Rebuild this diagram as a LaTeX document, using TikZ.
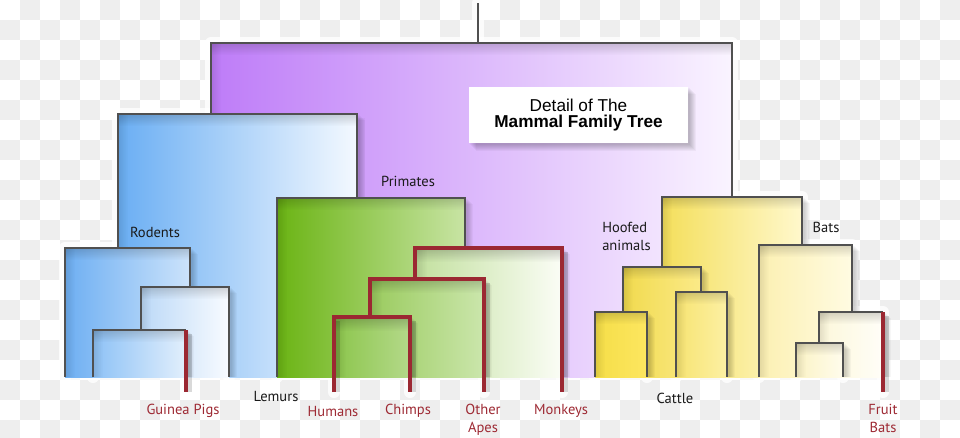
\documentclass[tikz,border=0pt]{standalone}
\usepackage{fontspec}
\setmainfont{PT Sans}
\newfontfamily\helv{Liberation Sans}
\usetikzlibrary{fadings}
\definecolor{edgegray}{HTML}{505050}
\definecolor{redline}{HTML}{9B2832}
\definecolor{chk}{HTML}{EEEEEE}
\definecolor{labred}{HTML}{9E2A34}
\definecolor{labblk}{HTML}{1A1A1A}
\tikzset{
  edge/.style={draw=edgegray,line width=1.1pt},
  redl/.style={draw=redline,line width=2.3pt},
  halo/.style={draw=white,line width=9pt,line cap=round,line join=round,opacity=0.8},
  lab/.style={font=\fontsize{10.9pt}{13.5pt}\selectfont,text=labblk,inner sep=0pt,align=center},
  rlab/.style={lab,text=labred},
}
\begin{document}
\begin{tikzpicture}[x=0.75pt,y=-0.75pt]
\useasboundingbox (0,0) rectangle (960,437);
\fill[white] (0,0) rectangle (960,437);
\foreach \j in {0,...,21}{%
  \pgfmathtruncatemacro\off{mod(\j+1,2)}%
  \foreach \i in {0,2,...,46}{\fill[chk] ({(\i+\off)*20},\j*20) rectangle ++(20,20);}}
% halos
\draw[halo] (478,3) -- (478,43);
\draw[halo] (211,114) |- (732,43) -- (732,197);
\draw[halo] (118,248) |- (357,114) -- (357,198);
\draw[halo] (65,377) |- (190,248) -- (190,287);
\draw[halo] (141,330) |- (229,287) -- (229,377);
\draw[halo] (93,377) |- (186,330) -- (186,392);
\draw[halo] (277,377) |- (465,198) -- (465,248);
\draw[halo] (415,279) |- (562,248) -- (562,392);
\draw[halo] (370,317) |- (484,279) -- (484,392);
\draw[halo] (334,392) |- (410,317) -- (410,392);
\draw[halo] (662,267) |- (802,197) -- (802,245);
\draw[halo] (623,312) |- (701,267) -- (701,292);
\draw[halo] (595,377) |- (647,312) -- (647,377);
\draw[halo] (676,377) |- (727,292) -- (727,377);
\draw[halo] (759,377) |- (852,245) -- (852,312);
\draw[halo] (819,343) |- (883,312) -- (883,392);
\draw[halo] (796,377) |- (843,343) -- (843,377);
\fill[white,opacity=0.7] (65,377) rectangle (883,380);
% root stem
\draw[edge] (478,3) -- (478,43);
% purple
\fill[left color={rgb,255:red,190;green,124;blue,248},right color={rgb,255:red,250;green,244;blue,255}] (211,43) rectangle (732,377);
\fill[black,opacity=0.16,path fading=south] (211,43) rectangle (732,55);
\fill[black,opacity=0.10,path fading=east] (211,43) rectangle (221,377);
\draw[edge] (211,114) |- (732,43) -- (732,197);
% title box
\foreach \k in {1,...,7}{\fill[black,opacity=0.035] (469+\k,87+\k) rectangle (688+\k+1,143+\k+1);}
\node[fill=white,minimum width=219*0.75pt,minimum height=56*0.75pt,inner sep=0pt,align=center] (title) at (578.5,115)
  {\helv\fontsize{12.9pt}{15.5pt}\selectfont Detail of The\\\helv\bfseries\fontsize{12.9pt}{15.5pt}\selectfont Mammal Family Tree};
% blue
\begin{scope}
\definecolor{c1}{HTML}{6AAEF3}\definecolor{c2}{HTML}{F4F9FF}
\fill[black,opacity=0.03] (357,118) rectangle (365,377);
\foreach \k in {1,...,6}{\fill[black,opacity=0.03] (118+\k,114+\k) rectangle (357+\k+2,377);}
\fill[left color=c1,right color=c2] (118,114) rectangle (357,377);
\fill[black,opacity=0.16,path fading=south] (118,114) rectangle (357,126);
\fill[black,opacity=0.10,path fading=east] (118,114) rectangle (128,377);
\end{scope}
\draw[edge] (118,248) |- (357,114) -- (357,198);
\begin{scope}
\definecolor{c1}{HTML}{6EAFF2}\definecolor{c2}{HTML}{CCE3FB}
\foreach \k in {1,...,6}{\fill[black,opacity=0.03] (65+\k,248+\k) rectangle (190+\k+2,377);}
\fill[left color=c1,right color=c2] (65,248) rectangle (190,377);
\fill[black,opacity=0.16,path fading=south] (65,248) rectangle (190,260);
\fill[black,opacity=0.10,path fading=east] (65,248) rectangle (75,377);
\end{scope}
\draw[edge] (65,377) |- (190,248) -- (190,287);
\begin{scope}
\definecolor{c1}{HTML}{BCD9F7}\definecolor{c2}{HTML}{F8FBFF}
\foreach \k in {1,...,6}{\fill[black,opacity=0.03] (141+\k,287+\k) rectangle (229+\k+2,377);}
\fill[left color=c1,right color=c2] (141,287) rectangle (229,377);
\fill[black,opacity=0.16,path fading=south] (141,287) rectangle (229,299);
\fill[black,opacity=0.10,path fading=east] (141,287) rectangle (151,377);
\end{scope}
\draw[edge] (141,330) |- (229,287) -- (229,377);
\begin{scope}
\definecolor{c1}{HTML}{8EC2F6}\definecolor{c2}{HTML}{E2EFFC}
\foreach \k in {1,...,6}{\fill[black,opacity=0.03] (93+\k,330+\k) rectangle (186+\k+2,377);}
\fill[left color=c1,right color=c2] (93,330) rectangle (186,377);
\fill[black,opacity=0.16,path fading=south] (93,330) rectangle (186,342);
\fill[black,opacity=0.10,path fading=east] (93,330) rectangle (103,377);
\end{scope}
\draw[edge] (93,377) |- (186,330);
\draw[black,opacity=0.15,line width=3pt] (190,334) -- (190,392);
\draw[redl] (186,330) -- (186,392);
% green
\begin{scope}
\definecolor{c1}{HTML}{6BB414}\definecolor{c2}{HTML}{C8E4A4}
\foreach \k in {1,...,6}{\fill[black,opacity=0.03] (277+\k,198+\k) rectangle (465+\k+2,377);}
\fill[left color=c1,right color=c2] (277,198) rectangle (465,377);
\fill[black,opacity=0.16,path fading=south] (277,198) rectangle (465,210);
\fill[black,opacity=0.10,path fading=east] (277,198) rectangle (287,377);
\end{scope}
\draw[edge] (277,377) |- (465,198) -- (465,248);
% red clade
\begin{scope}
\definecolor{c1}{HTML}{C2E09E}\definecolor{c2}{HTML}{FBFDF6}
\foreach \k in {1,...,6}{\fill[black,opacity=0.03] (415+\k,248+\k) rectangle (562+\k+2,377);}
\fill[left color=c1,right color=c2] (415,248) rectangle (562,377);
\fill[black,opacity=0.2,path fading=south] (415,248) rectangle (562,262);
\fill[black,opacity=0.12,path fading=east] (415,248) rectangle (427,377);
\end{scope}
\draw[black,opacity=0.15,line width=3pt] (566,252) -- (566,392);
\draw[redl] (415,279) |- (562,248) -- (562,392);
\begin{scope}
\definecolor{c1}{HTML}{9ACB5E}\definecolor{c2}{HTML}{CBE6AC}
\foreach \k in {1,...,6}{\fill[black,opacity=0.03] (370+\k,279+\k) rectangle (484+\k+2,377);}
\fill[left color=c1,right color=c2] (370,279) rectangle (484,377);
\fill[black,opacity=0.2,path fading=south] (370,279) rectangle (484,293);
\fill[black,opacity=0.12,path fading=east] (370,279) rectangle (382,377);
\end{scope}
\draw[black,opacity=0.15,line width=3pt] (488,283) -- (488,392);
\draw[redl] (370,317) |- (484,279) -- (484,392);
\begin{scope}
\definecolor{c1}{HTML}{8CC64C}\definecolor{c2}{HTML}{B4D98A}
\foreach \k in {1,...,6}{\fill[black,opacity=0.03] (334+\k,317+\k) rectangle (410+\k+2,377);}
\fill[left color=c1,right color=c2] (334,317) rectangle (410,377);
\fill[black,opacity=0.2,path fading=south] (334,317) rectangle (410,331);
\fill[black,opacity=0.12,path fading=east] (334,317) rectangle (346,377);
\end{scope}
\draw[black,opacity=0.15,line width=3pt] (414,321) -- (414,392) (338,321) -- (338,392);
\draw[redl] (334,392) |- (410,317) -- (410,392);
% yellow
\begin{scope}
\definecolor{c1}{HTML}{F4DF5C}\definecolor{c2}{HTML}{FFF8CC}
\foreach \k in {1,...,6}{\fill[black,opacity=0.03] (662+\k,197+\k) rectangle (802+\k+2,377);}
\fill[left color=c1,right color=c2] (662,197) rectangle (802,377);
\fill[black,opacity=0.16,path fading=south] (662,197) rectangle (802,209);
\fill[black,opacity=0.10,path fading=east] (662,197) rectangle (672,377);
\end{scope}
\draw[edge] (662,267) |- (802,197) -- (802,245);
\begin{scope}
\definecolor{c1}{HTML}{F1DA4E}\definecolor{c2}{HTML}{FBEA88}
\foreach \k in {1,...,6}{\fill[black,opacity=0.03] (623+\k,267+\k) rectangle (701+\k+2,377);}
\fill[left color=c1,right color=c2] (623,267) rectangle (701,377);
\fill[black,opacity=0.16,path fading=south] (623,267) rectangle (701,279);
\fill[black,opacity=0.10,path fading=east] (623,267) rectangle (633,377);
\end{scope}
\draw[edge] (623,312) |- (701,267) -- (701,292);
\begin{scope}
\definecolor{c1}{HTML}{F5DE48}\definecolor{c2}{HTML}{FDE660}
\foreach \k in {1,...,6}{\fill[black,opacity=0.03] (595+\k,312+\k) rectangle (647+\k+2,377);}
\fill[left color=c1,right color=c2] (595,312) rectangle (647,377);
\fill[black,opacity=0.16,path fading=south] (595,312) rectangle (647,324);
\fill[black,opacity=0.10,path fading=east] (595,312) rectangle (605,377);
\end{scope}
\draw[edge] (595,377) |- (647,312) -- (647,377);
\begin{scope}
\definecolor{c1}{HTML}{F7E472}\definecolor{c2}{HTML}{FCF0A4}
\foreach \k in {1,...,6}{\fill[black,opacity=0.03] (676+\k,292+\k) rectangle (727+\k+2,377);}
\fill[left color=c1,right color=c2] (676,292) rectangle (727,377);
\fill[black,opacity=0.16,path fading=south] (676,292) rectangle (727,304);
\fill[black,opacity=0.10,path fading=east] (676,292) rectangle (686,377);
\end{scope}
\draw[edge] (676,377) |- (727,292) -- (727,377);
\begin{scope}
\definecolor{c1}{HTML}{FCF0B2}\definecolor{c2}{HTML}{FFFBE2}
\foreach \k in {1,...,6}{\fill[black,opacity=0.03] (759+\k,245+\k) rectangle (852+\k+2,377);}
\fill[left color=c1,right color=c2] (759,245) rectangle (852,377);
\fill[black,opacity=0.16,path fading=south] (759,245) rectangle (852,257);
\fill[black,opacity=0.10,path fading=east] (759,245) rectangle (769,377);
\end{scope}
\draw[edge] (759,377) |- (852,245) -- (852,312);
\begin{scope}
\definecolor{c1}{HTML}{FCF7DA}\definecolor{c2}{HTML}{FFFEF8}
\foreach \k in {1,...,6}{\fill[black,opacity=0.03] (819+\k,312+\k) rectangle (883+\k+2,377);}
\fill[left color=c1,right color=c2] (819,312) rectangle (883,377);
\fill[black,opacity=0.16,path fading=south] (819,312) rectangle (883,324);
\fill[black,opacity=0.10,path fading=east] (819,312) rectangle (829,377);
\end{scope}
\draw[edge] (819,343) |- (883,312);
\draw[black,opacity=0.15,line width=3pt] (887,316) -- (887,392);
\draw[redl] (883,312) -- (883,392);
\begin{scope}
\definecolor{c1}{HTML}{FBF3C6}\definecolor{c2}{HTML}{FFFCEC}
\foreach \k in {1,...,6}{\fill[black,opacity=0.03] (796+\k,343+\k) rectangle (843+\k+2,377);}
\fill[left color=c1,right color=c2] (796,343) rectangle (843,377);
\fill[black,opacity=0.16,path fading=south] (796,343) rectangle (843,355);
\fill[black,opacity=0.10,path fading=east] (796,343) rectangle (806,377);
\end{scope}
\draw[edge] (796,377) |- (843,343) -- (843,377);
% labels
\node[lab] (rodents) at (155,232) {Rodents};
\node[lab] (primates) at (408,181) {Primates};
\node[lab,align=left,anchor=west] (hoofed) at (602,236) {Hoofed\\animals};
\node[lab] (bats) at (826,227) {Bats};
\node[lab] (lemurs) at (276,396) {Lemurs};
\node[lab] (cattle) at (675,398) {Cattle};
\node[rlab] (guinea) at (183,411) {Guinea Pigs};
\node[rlab] (humans) at (333,411) {Humans};
\node[rlab] (chimps) at (408,411) {Chimps};
\node[rlab,anchor=north] (apes) at (483,404) {Other\\Apes};
\node[rlab] (monkeys) at (561,411) {Monkeys};
\node[rlab,anchor=north] (fruit) at (883,404) {Fruit\\Bats};
\end{tikzpicture}
\end{document}
